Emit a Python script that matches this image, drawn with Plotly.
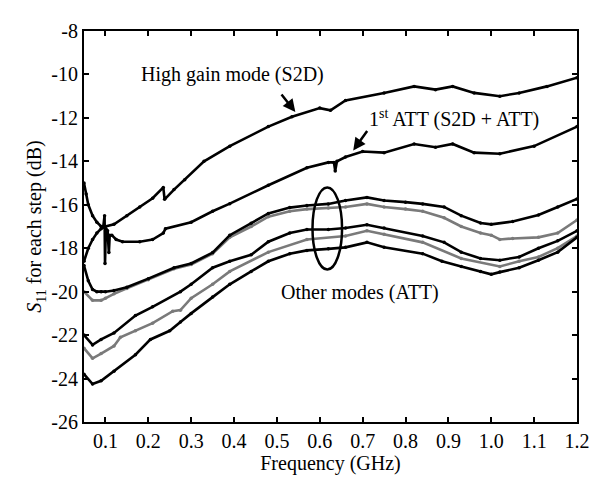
import plotly.graph_objects as go

# ---- data ----
hg_x = [0.05,0.06,0.07,0.08,0.09,0.10,0.12,0.15,0.18,0.21,0.235,0.238,0.26,0.285,0.33,0.39,0.48,0.535,0.60,0.625,0.66,0.75,0.82,0.87,0.91,0.96,1.02,1.065,1.13,1.2]
hg_y = [-18.6,-18.0,-17.6,-17.3,-17.1,-17.0,-16.9,-16.5,-16.1,-15.7,-15.2,-15.75,-15.3,-14.85,-14.0,-13.3,-12.4,-11.95,-11.55,-11.65,-11.2,-10.85,-10.55,-10.7,-10.55,-10.85,-11.0,-10.85,-10.55,-10.15]

a1_x = [0.05,0.055,0.06,0.07,0.08,0.09,0.095,0.098,0.099,0.101,0.105,0.108,0.11,0.115,0.125,0.14,0.18,0.21,0.235,0.24,0.30,0.35,0.39,0.48,0.57,0.62,0.633,0.636,0.64,0.66,0.70,0.75,0.82,0.87,0.91,0.96,1.02,1.10,1.2]
a1_y = [-15.0,-15.5,-16.0,-16.5,-16.8,-17.0,-17.0,-16.5,-18.7,-17.1,-17.2,-18.2,-17.4,-17.4,-17.6,-17.7,-17.7,-17.6,-17.3,-17.1,-16.8,-16.3,-15.95,-15.1,-14.3,-14.05,-14.05,-14.44,-14.0,-13.8,-13.55,-13.6,-13.2,-13.35,-13.2,-13.6,-13.65,-13.3,-12.4]

oa_x = [0.05,0.06,0.07,0.08,0.09,0.10,0.12,0.15,0.20,0.26,0.30,0.35,0.39,0.44,0.48,0.53,0.57,0.62,0.66,0.71,0.75,0.80,0.84,0.89,0.93,0.975,1.0,1.05,1.11,1.155,1.2]
oa_y = [-18.8,-19.5,-19.9,-20.0,-20.0,-20.0,-19.95,-19.8,-19.4,-18.9,-18.7,-18.2,-17.4,-16.85,-16.4,-16.13,-16.03,-15.96,-15.8,-15.66,-15.8,-15.88,-15.96,-16.1,-16.5,-16.84,-16.9,-16.77,-16.47,-16.1,-15.73]

ga_x = [0.05,0.07,0.09,0.10,0.12,0.15,0.20,0.26,0.30,0.35,0.39,0.44,0.48,0.53,0.57,0.62,0.66,0.71,0.75,0.80,0.84,0.89,0.93,0.975,1.0,1.02,1.05,1.11,1.155,1.2]
ga_y = [-20.0,-20.4,-20.4,-20.3,-20.1,-19.85,-19.45,-18.95,-18.75,-18.25,-17.5,-17.0,-16.55,-16.3,-16.2,-16.15,-16.1,-15.96,-16.1,-16.2,-16.3,-16.6,-17.0,-17.3,-17.4,-17.6,-17.55,-17.5,-17.3,-16.7]

ob_x = [0.05,0.07,0.09,0.12,0.17,0.21,0.275,0.30,0.35,0.39,0.44,0.48,0.53,0.57,0.62,0.66,0.71,0.75,0.84,0.89,0.93,0.975,1.02,1.065,1.11,1.155,1.2]
ob_y = [-22.0,-22.45,-22.2,-21.9,-21.1,-20.7,-20.0,-19.66,-18.9,-18.6,-18.3,-17.7,-17.3,-17.14,-17.14,-17.07,-16.92,-17.07,-17.44,-17.73,-18.18,-18.47,-18.55,-18.4,-18.0,-17.66,-17.2]

gb_x = [0.05,0.07,0.09,0.12,0.135,0.17,0.21,0.257,0.275,0.30,0.35,0.39,0.48,0.57,0.66,0.71,0.75,0.84,0.93,1.02,1.065,1.11,1.155,1.2]
gb_y = [-22.6,-23.07,-22.85,-22.5,-22.1,-21.8,-21.45,-20.9,-20.85,-20.3,-19.66,-19.07,-18.18,-17.6,-17.44,-17.2,-17.36,-17.73,-18.47,-18.84,-18.6,-18.4,-18.0,-17.44]

oc_x = [0.05,0.07,0.09,0.12,0.17,0.205,0.25,0.275,0.30,0.35,0.39,0.44,0.48,0.53,0.57,0.62,0.66,0.71,0.75,0.84,0.885,0.93,0.975,1.0,1.02,1.065,1.11,1.155,1.2]
oc_y = [-23.8,-24.25,-24.1,-23.66,-22.9,-22.2,-21.8,-21.4,-21.0,-20.25,-19.66,-19.07,-18.6,-18.25,-18.1,-18.03,-17.96,-17.73,-17.96,-18.25,-18.6,-18.84,-19.07,-19.2,-19.1,-18.9,-18.55,-18.18,-17.5]

x_ticks = [0.1,0.2,0.3,0.4,0.5,0.6,0.7,0.8,0.9,1.0,1.1,1.2]
x_tick_text = ["0.1","0.2","0.3","0.4","0.5","0.6","0.7","0.8","0.9","1.0","1.1","1.2"]
y_ticks = [-26,-24,-22,-20,-18,-16,-14,-12,-10,-8]
y_tick_text = ["-26","-24","-22","-20","-18","-16","-14","-12","-10","-8"]

FONT = "Liberation Serif"
BLACK = "#000000"
GRAY = "#7a7a7a"

series = [
    (hg_x, hg_y, BLACK),
    (a1_x, a1_y, BLACK),
    (ga_x, ga_y, GRAY),
    (oa_x, oa_y, BLACK),
    (gb_x, gb_y, GRAY),
    (ob_x, ob_y, BLACK),
    (oc_x, oc_y, BLACK),
]

fig = go.Figure()
for xs, ys, col in series:
    fig.add_trace(go.Scatter(x=xs, y=ys, mode="lines+markers",
                             line=dict(color=col, width=2.6),
                             marker=dict(color=col, size=3.5),
                             showlegend=False))

fig.add_shape(type="circle", xref="x", yref="y",
              x0=0.583, x1=0.652, y0=-18.98, y1=-15.2,
              line=dict(color=BLACK, width=2.5))

tf = dict(family=FONT, size=20, color=BLACK)
fig.add_annotation(x=0.396, y=-10.0, text="High gain mode (S2D)", showarrow=False, font=tf)
fig.add_annotation(x=0.914, y=-12.05, text="1<sup>st</sup> ATT (S2D + ATT)", showarrow=False, font=tf)
fig.add_annotation(x=0.694, y=-20.05, text="Other modes (ATT)", showarrow=False, font=tf)

fig.add_annotation(x=0.543, y=-11.73, ax=0.508, ay=-10.85, axref="x", ayref="y",
                   xref="x", yref="y", text="", showarrow=True,
                   arrowhead=2, arrowsize=1, arrowwidth=2.5, arrowcolor=BLACK)
fig.add_annotation(x=0.678, y=-13.5, ax=0.713, ay=-12.53, axref="x", ayref="y",
                   xref="x", yref="y", text="", showarrow=True,
                   arrowhead=2, arrowsize=1, arrowwidth=2.5, arrowcolor=BLACK)

axis_common = dict(showgrid=False, zeroline=False, showline=True, linecolor=BLACK,
                   linewidth=2, mirror="ticks", ticks="inside", ticklen=5,
                   tickwidth=1.5, tickcolor=BLACK,
                   tickfont=dict(family=FONT, size=20, color=BLACK))

fig.update_xaxes(range=[0.05, 1.2], tickvals=x_ticks, ticktext=x_tick_text,
                 title=dict(text="Frequency (GHz)", font=tf, standoff=4), **axis_common)
fig.update_yaxes(range=[-26, -8], tickvals=y_ticks, ticktext=y_tick_text,
                 title=dict(text="<i>S</i><sub>11</sub> for each step (dB)", font=tf, standoff=4),
                 **axis_common)

fig.update_layout(width=594, height=474, plot_bgcolor="white", paper_bgcolor="white",
                  margin=dict(l=76, r=23, t=13, b=56), font=tf)

fig.write_html("out.html")
